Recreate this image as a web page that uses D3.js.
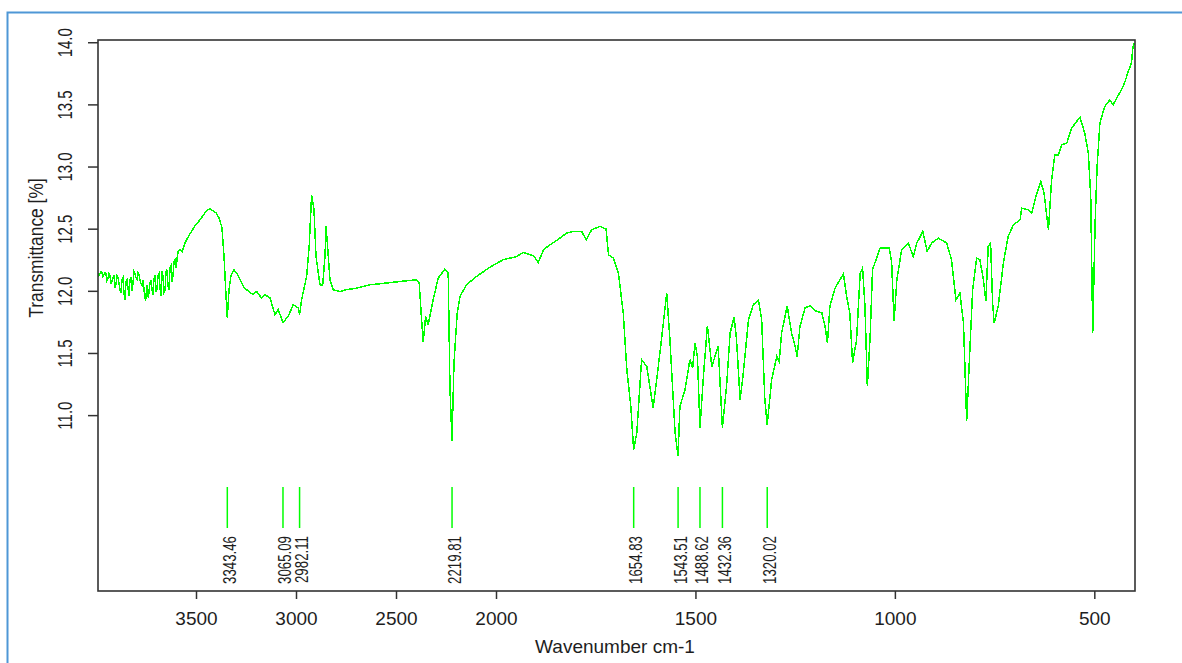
<!DOCTYPE html>
<html>
<head>
<script src="https://cdnjs.cloudflare.com/ajax/libs/d3/7.8.5/d3.min.js"></script>
<style>
body {
  margin: 0;
  padding: 0;
  background: #fff;
}
text {
  font-family: "Liberation Sans", Arial, sans-serif;
  fill: #1e1e1e;
}
</style>
</head>
<body>
<svg></svg>

<script>
// [wavenumber cm-1, transmittance %]
var spectrum = [
  [3989,12.143],[3985,12.121],[3980,12.137],[3975,12.153],[3970,12.145],[3965,12.113],
  [3960,12.129],[3955,12.145],[3950,12.137],[3945,12.081],[3940,12.097],[3935,12.137],
  [3930,12.121],[3925,12.057],[3920,12.081],[3915,12.105],[3910,12.129],[3905,12.025],
  [3900,12.057],[3895,12.121],[3890,12.105],[3885,12.065],[3880,12.009],[3875,11.985],
  [3870,12.089],[3865,12.105],[3860,11.977],[3855,11.929],[3850,12.073],[3845,12.089],
  [3840,12.025],[3835,11.961],[3830,12.089],[3825,12.113],[3820,12.001],[3815,12.065],
  [3810,12.153],[3805,12.137],[3800,12.105],[3795,12.089],[3790,12.145],[3785,12.129],
  [3780,12.089],[3775,12.057],[3770,12.041],[3765,12.089],[3760,12.009],[3752,11.920],
  [3745,12.049],[3738,11.945],[3730,12.065],[3725,12.089],[3720,12.009],[3715,11.969],
  [3710,12.097],[3705,12.129],[3700,11.993],[3695,12.017],[3690,12.121],[3685,12.137],
  [3680,12.025],[3675,11.961],[3670,12.161],[3665,12.113],[3660,11.985],[3655,12.001],
  [3650,12.153],[3645,12.170],[3640,12.041],[3635,12.009],[3630,12.186],[3625,12.202],
  [3620,12.073],[3615,12.121],[3610,12.234],[3605,12.250],[3600,12.186],
  [3590,12.314],[3580,12.330],[3570,12.314],[3555,12.387],[3530,12.459],[3505,12.523],
  [3480,12.571],[3455,12.628],[3440,12.652],[3430,12.660],[3415,12.644],[3400,12.628],
  [3385,12.587],[3370,12.507],[3360,12.282],[3350,11.960],[3343.5,11.784],[3335,12.009],
  [3325,12.121],[3310,12.170],[3295,12.137],[3280,12.089],[3260,12.025],[3240,12.001],
  [3215,11.969],[3197,11.995],[3172,11.942],[3155,11.969],[3130,11.942],[3105,11.808],
  [3089,11.848],[3065,11.746],[3039,11.794],[3014,11.888],[2989,11.862],[2982,11.808],
  [2972,11.928],[2947,12.116],[2934,12.357],[2922,12.772],[2910,12.652],[2900,12.276],
  [2880,12.049],[2867,12.041],[2855,12.276],[2850,12.518],[2842,12.357],[2830,12.089],
  [2814,12.009],[2780,11.995],[2747,12.009],[2697,12.022],[2630,12.049],[2580,12.057],
  [2480,12.075],[2397,12.089],[2384,12.062],[2372,11.768],[2364,11.585],[2352,11.794],
  [2339,11.727],[2314,11.928],[2289,12.103],[2255,12.175],[2239,12.143],[2230,11.205],
  [2220,10.789],[2210,11.419],[2194,11.821],[2180,11.955],[2147,12.049],[2097,12.116],
  [2030,12.191],[2000,12.218],[1982,12.250],[1948,12.276],[1932,12.309],[1906,12.282],
  [1894,12.228],[1881,12.330],[1865,12.370],[1848,12.405],[1823,12.465],[1806,12.477],
  [1785,12.477],[1774,12.411],[1760,12.491],[1739,12.518],[1724,12.497],[1718,12.290],
  [1706,12.264],[1693,12.143],[1681,11.821],[1672,11.366],[1662,11.071],[1655,10.722],
  [1647,10.857],[1635,11.446],[1622,11.392],[1606,11.058],[1589,11.500],[1572,11.982],
  [1564,11.607],[1551,10.857],[1543.5,10.669],[1539,11.071],[1526,11.205],[1514,11.446],
  [1507,11.379],[1501,11.580],[1495,11.472],[1488.6,10.897],[1480,11.312],[1470,11.719],
  [1459,11.392],[1451,11.472],[1443,11.553],[1432.4,10.897],[1422,11.231],[1413,11.661],
  [1403,11.789],[1397,11.607],[1388,11.124],[1380,11.339],[1367,11.768],[1355,11.888],
  [1342,11.928],[1334,11.768],[1326,11.124],[1320,10.923],[1309,11.285],[1296,11.472],
  [1290,11.432],[1284,11.661],[1270,11.880],[1259,11.661],[1250,11.553],[1245,11.468],
  [1238,11.714],[1225,11.862],[1213,11.880],[1200,11.840],[1183,11.821],[1175,11.714],
  [1169,11.580],[1163,11.874],[1150,12.022],[1129,12.137],[1121,11.955],[1113,11.821],
  [1106,11.419],[1096,11.607],[1087,12.143],[1081,12.183],[1075,11.874],[1069,11.231],
  [1062,11.633],[1056,12.170],[1037,12.344],[1014,12.344],[1008,12.223],[1002,11.754],
  [995,12.089],[983,12.330],[966,12.384],[954,12.276],[945,12.384],[930,12.477],
  [919,12.317],[908,12.384],[891,12.424],[870,12.384],[858,12.250],[847,11.928],
  [837,11.982],[828,11.741],[820,10.950],[812,11.526],[805,12.009],[795,12.263],
  [787,12.250],[778,12.089],[772,11.915],[766,12.357],[760,12.384],[755,11.902],
  [751,11.741],[741,11.874],[728,12.223],[716,12.437],[703,12.531],[686,12.571],
  [682,12.665],[666,12.652],[657,12.625],[644,12.786],[634,12.879],[626,12.786],
  [619,12.598],[615,12.491],[607,12.893],[599,13.094],[590,13.094],[582,13.174],
  [569,13.188],[557,13.309],[536,13.397],[524,13.268],[515,13.108],[509,12.759],
  [504,11.661],[498,12.545],[493,13.000],[486,13.349],[474,13.482],[461,13.536],
  [453,13.496],[444,13.550],[432,13.616],[423,13.683],[415,13.764],[407,13.831],
  [403,13.965],[399,13.997]
];

var peaks = [3343.46, 3065.09, 2982.11, 2219.81, 1654.83, 1543.51, 1488.62, 1432.36, 1320.02];

var xTicks = [3500, 3000, 2500, 2000, 1500, 1000, 500];
var yTicks = [11.0, 11.5, 12.0, 12.5, 13.0, 13.5, 14.0];

var width = 1182,
  height = 663;

var svg = d3.select('svg')
  .attr('width', width)
  .attr('height', height);

var plot = { left: 98, top: 40, right: 1135, bottom: 591 };

// x axis is stretched below 2000 cm-1, like the instrument software does
var x = d3.scaleLinear()
  .domain([3990, 2000, 398])
  .range([plot.left, 496, plot.right]);

var y = d3.scaleLinear()
  .domain([9.585, 14.018])
  .range([plot.bottom, plot.top]);

var green = '#00ff00';

// outer blue frame of the screenshot
svg.append('rect')
  .attr('x', 7.5)
  .attr('y', 12.5)
  .attr('width', 1250)
  .attr('height', 700)
  .attr('fill', 'none')
  .attr('stroke', '#4f97d6')
  .attr('stroke-width', 2);

// spectrum
var line = d3.line()
  .x(function(d) { return x(d[0]); })
  .y(function(d) { return y(d[1]); });

svg.append('path')
  .datum(spectrum)
  .attr('d', line)
  .attr('fill', 'none')
  .attr('stroke', green)
  .attr('stroke-width', 1.5)
  .attr('shape-rendering', 'crispEdges');

// peak markers
var pk = svg.append('g').attr('class', 'peaks');

pk.selectAll('line')
  .data(peaks)
  .enter().append('line')
  .attr('x1', function(d) { return x(d); })
  .attr('x2', function(d) { return x(d); })
  .attr('y1', 487)
  .attr('y2', 528)
  .attr('stroke', green)
  .attr('stroke-width', 1.5);

pk.selectAll('text')
  .data(peaks)
  .enter().append('text')
  .attr('transform', function(d) {
    return 'translate(' + (x(d) + 8.5) + ',536) rotate(-90) scale(1,1.33)';
  })
  .attr('text-anchor', 'end')
  .style('font-size', '13.3px')
  .text(function(d) { return d.toFixed(2); });

// axes
var xAxis = d3.axisBottom(x)
  .tickValues(xTicks)
  .tickSize(8)
  .tickSizeOuter(0)
  .tickFormat(d3.format('d'));

var gx = svg.append('g')
  .attr('transform', 'translate(0,' + plot.bottom + ')')
  .call(xAxis);
gx.select('.domain').remove();
gx.selectAll('.tick line').attr('stroke', '#333').attr('stroke-width', 1.5);
gx.selectAll('.tick text')
  .attr('y', 34)
  .attr('dy', 0)
  .attr('fill', '#1e1e1e')
  .style('font-size', '19px')
  .style('font-family', '"Liberation Sans", Arial, sans-serif');

var yAxis = d3.axisLeft(y)
  .tickValues(yTicks)
  .tickSize(10)
  .tickSizeOuter(0)
  .tickFormat(d3.format('.1f'));

var gy = svg.append('g')
  .attr('transform', 'translate(' + plot.left + ',0)')
  .call(yAxis);
gy.select('.domain').remove();
gy.selectAll('.tick line').attr('stroke', '#333').attr('stroke-width', 1.5);
gy.selectAll('.tick text').remove();

gy.selectAll('.tick')
  .append('text')
  .attr('transform', 'translate(-26.3,0) rotate(-90) scale(1,1.4)')
  .attr('text-anchor', 'middle')
  .attr('fill', '#1e1e1e')
  .style('font-size', '15px')
  .style('font-family', '"Liberation Sans", Arial, sans-serif')
  .text(function(d) { return d3.format('.1f')(d); });

// plot box
svg.append('rect')
  .attr('x', plot.left)
  .attr('y', plot.top)
  .attr('width', plot.right - plot.left)
  .attr('height', plot.bottom - plot.top)
  .attr('fill', 'none')
  .attr('stroke', '#333')
  .attr('stroke-width', 1.6);

// titles
svg.append('text')
  .attr('x', 615)
  .attr('y', 653)
  .attr('text-anchor', 'middle')
  .style('font-size', '19px')
  .text('Wavenumber cm-1');

svg.append('text')
  .attr('transform', 'translate(43.3,248) rotate(-90) scale(1,1.2)')
  .attr('text-anchor', 'middle')
  .style('font-size', '17.4px')
  .text('Transmittance [%]');
</script>
</body>
</html>
